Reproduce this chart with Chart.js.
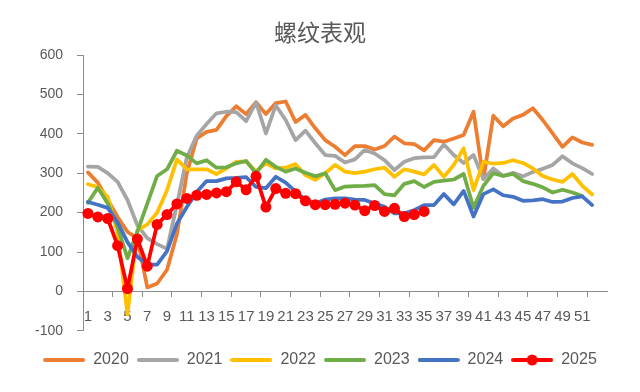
<!DOCTYPE html>
<html lang="zh">
<head>
<meta charset="utf-8">
<title>螺纹表观</title>
<script src="https://cdn.jsdelivr.net/npm/chart.js@4.4.2/dist/chart.umd.min.js"></script>
<style>
    html, body { margin: 0; padding: 0; background: #fff; }
    #chart-wrap { width: 640px; height: 392px; }
</style>
</head>
<body>
<div id="chart-wrap"><canvas id="chart" width="640" height="392"></canvas></div>
<script>
// Semaines (la 53e case est vide)
const weeks = ['1', '2', '3', '4', '5', '6', '7', '8', '9', '10', '11', '12', '13', '14', '15', '16', '17', '18', '19', '20',
    '21', '22', '23', '24', '25', '26', '27', '28', '29', '30', '31', '32', '33', '34', '35', '36', '37', '38', '39', '40',
    '41', '42', '43', '44', '45', '46', '47', '48', '49', '50', '51', '52', ''];

const years = ['2020', '2021', '2022', '2023', '2024', '2025'];
const colors = ['#ED7D31', '#A5A5A5', '#FFC000', '#70AD47', '#4472C4', '#FF0000'];

const values2020 = [302, 276, 232, 189, 151, 135, 10, 20, 55, 145, 300, 388, 405, 410, 445, 470, 450, 480, 450, 478,
    482, 430, 448, 414, 384, 367, 346, 369, 369, 360, 369, 393, 376, 374, 358, 384, 380, 388, 397, 456,
    285, 446, 419, 439, 448, 465, 435, 401, 367, 391, 378, 372];
const values2021 = [317, 316, 300, 278, 232, 168, 135, 120, 108, 220, 340, 395, 425, 452, 456, 455, 432, 480, 401, 472,
    435, 384, 408, 376, 346, 344, 327, 335, 359, 350, 333, 308, 329, 338, 340, 341, 373, 346, 326, 346,
    285, 312, 293, 301, 292, 303, 311, 321, 343, 325, 313, 298];
const values2022 = [272, 265, 240, 150, -58, 155, 170, 200, 257, 335, 310, 310, 310, 298, 312, 329, 330, 305, 325, 312,
    314, 323, 295, 283, 300, 321, 304, 300, 304, 310, 314, 291, 310, 304, 297, 321, 291, 321, 363, 257,
    329, 324, 326, 333, 326, 312, 293, 284, 278, 298, 268, 246];
const values2023 = [225, 263, 223, 164, 84, 152, 223, 293, 310, 357, 345, 325, 333, 314, 315, 325, 331, 300, 334, 316,
    304, 312, 301, 292, 300, 257, 266, 267, 268, 270, 247, 244, 273, 280, 265, 278, 281, 284, 298, 212,
    268, 300, 293, 298, 280, 273, 264, 251, 258, 251, 242];
const values2024 = [227, 220, 212, 175, 125, 88, 68, 68, 102, 172, 214, 252, 280, 280, 287, 288, 290, 265, 262, 291,
    276, 253, 233, 223, 233, 236, 236, 233, 232, 223, 215, 198, 198, 206, 219, 219, 247, 221, 255, 190,
    247, 259, 244, 240, 230, 231, 234, 227, 228, 237, 241, 219];
const values2025 = [198, 189, 185, 116, 7, 133, 64, 170, 195, 222, 236, 244, 246, 250, 253, 278, 258, 292, 214, 261,
    249, 248, 230, 220, 220, 221, 224, 219, 205, 218, 203, 211, 190, 195, 203];

const yMin = -100;
const yMax = 600;
const yStep = 100;

const series = [values2020, values2021, values2022, values2023, values2024, values2025];
const textColor = '#595959';
const axisColor = '#8c8c8c';
const fontFamily = '"Liberation Sans", Arial, sans-serif';

// Petites icônes de légende : un trait (et un point pour 2025)
function makeLegendIcon(color, withDot) {
    const c = document.createElement('canvas');
    c.width = 42;
    c.height = 14;
    const g = c.getContext('2d');
    g.strokeStyle = color;
    g.lineWidth = 4;
    g.lineCap = 'round';
    g.beginPath();
    g.moveTo(2, 7);
    g.lineTo(40, 7);
    g.stroke();
    if (withDot) {
        g.fillStyle = color;
        g.beginPath();
        g.arc(21, 7, 5.5, 0, Math.PI * 2);
        g.fill();
    }
    return c;
}
const legendIcons = years.map((y, i) => makeLegendIcon(colors[i], y === '2025'));

const datasets = years.map((year, i) => ({
    label: year,
    data: series[i],
    borderColor: colors[i],
    backgroundColor: colors[i],
    borderWidth: 3.75,
    borderJoinStyle: 'round',
    borderCapStyle: 'round',
    pointRadius: year === '2025' ? 5.5 : 0,
    pointBorderWidth: 0,
    pointHoverRadius: year === '2025' ? 5.5 : 0,
    tension: 0,
    order: years.length - i
}));

new Chart(document.getElementById('chart').getContext('2d'), {
    type: 'line',
    data: { labels: weeks, datasets },
    options: {
        responsive: false,
        animation: false,
        events: [],
        layout: { padding: { left: 0, right: 0, top: 0, bottom: 14 } },
        plugins: {
            title: {
                display: true,
                text: '螺纹表观',
                color: textColor,
                font: { family: '"Noto Sans CJK SC", sans-serif', size: 23, weight: 'normal' },
                padding: { top: 18, bottom: 9.4 }
            },
            legend: {
                position: 'bottom',
                title: { display: true, text: '', font: { size: 1 }, padding: { top: 12, bottom: 0 } },
                labels: {
                    usePointStyle: true,
                    pointStyleWidth: 42,
                    boxHeight: 14,
                    padding: 8,
                    color: textColor,
                    font: { family: fontFamily, size: 16 },
                    sort: (a, b) => a.datasetIndex - b.datasetIndex,
                    generateLabels: chart => Chart.defaults.plugins.legend.labels.generateLabels(chart)
                        .map(item => ({ ...item, pointStyle: legendIcons[item.datasetIndex] }))
                }
            },
            tooltip: { enabled: false }
        },
        scales: {
            x: {
                type: 'category',
                position: { y: 0 },
                offset: true,
                grid: {
                    offset: true,
                    drawOnChartArea: false,
                    tickLength: 5,
                    color: ctx => (ctx.index !== undefined && ctx.index % 3 === 0) ? axisColor : 'rgba(0,0,0,0)'
                },
                border: { color: axisColor, width: 1 },
                ticks: {
                    autoSkip: false,
                    maxRotation: 0,
                    minRotation: 0,
                    padding: 11,
                    color: textColor,
                    font: { family: fontFamily, size: 15 },
                    callback: (v, i) => (i % 2 === 0 ? weeks[i] : '')
                }
            },
            y: {
                min: yMin,
                max: yMax,
                grid: { drawOnChartArea: false, tickLength: 6, color: axisColor },
                border: { color: axisColor, width: 1 },
                ticks: {
                    stepSize: yStep,
                    padding: 14,
                    color: textColor,
                    font: { family: fontFamily, size: 14 }
                },
                afterFit: scale => { scale.width = 83; }
            },
            // marge droite vide, pour garder le titre centré sur la page
            yRight: {
                position: 'right',
                min: yMin,
                max: yMax,
                grid: { display: false },
                border: { display: false },
                ticks: { display: false },
                afterFit: scale => { scale.width = 33; }
            }
        }
    }
});
</script>
</body>
</html>
